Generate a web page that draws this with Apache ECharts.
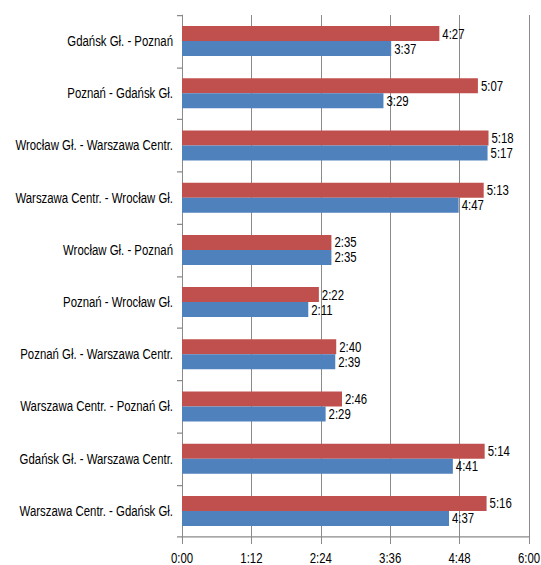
<!DOCTYPE html>
<html>
<head>
<meta charset="utf-8">
<script src="https://cdn.jsdelivr.net/npm/echarts@6/dist/echarts.min.js"></script>
<style>
  html, body { margin: 0; padding: 0; background: #fff; }
  #frame { width: 541px; height: 565px; position: relative; }
  /* chart is laid out at a reduced height and stretched vertically,
     which gives the tall, narrow lettering of the original */
  #chart { position: absolute; left: 0; top: 0; width: 541px; height: 452px;
           transform: scaleY(1.25); transform-origin: 0 0; }
</style>
</head>
<body>
<div id="frame"><div id="chart"></div></div>
<script>
// Routes, listed top to bottom
const routes = [
  'Gdańsk Gł. - Poznań',
  'Poznań - Gdańsk Gł.',
  'Wrocław Gł. - Warszawa Centr.',
  'Warszawa Centr. - Wrocław Gł.',
  'Wrocław Gł. - Poznań',
  'Poznań - Wrocław Gł.',
  'Poznań Gł. - Warszawa Centr.',
  'Warszawa Centr. - Poznań Gł.',
  'Gdańsk Gł. - Warszawa Centr.',
  'Warszawa Centr. - Gdańsk Gł.'
];

// Travel times in minutes
const timesRed = [267, 307, 318, 313, 155, 142, 160, 166, 314, 316];
const timesBlue = [217, 209, 317, 287, 155, 131, 159, 149, 281, 277];

// Axis range and step in minutes (0:00 .. 6:00 every 1:12)
const axisMin = 0;
const axisMax = 360;
const axisStep = 72;

function hm(minutes) {
  const h = Math.floor(minutes / 60);
  const m = Math.round(minutes % 60);
  return h + ':' + (m < 10 ? '0' : '') + m;
}

const fontFamily = '"Liberation Sans", Arial, sans-serif';
const fontSize = 11.4;

const chart = echarts.init(document.getElementById('chart'), null, { renderer: 'svg' });

const labelCfg = {
  show: true,
  position: 'right',
  distance: 3,
  color: '#000',
  fontFamily: fontFamily,
  fontSize: fontSize,
  formatter: p => hm(p.value)
};

chart.setOption({
  animation: false,
  grid: { left: 182, right: 12, top: 12, bottom: 22.4, containLabel: false, outerBoundsMode: 'none' },
  xAxis: {
    type: 'value',
    min: axisMin,
    max: axisMax,
    interval: axisStep,
    axisLine: { show: true, lineStyle: { color: '#8a8a8a', width: 1 } },
    axisTick: { show: true, length: 5.5, lineStyle: { color: '#8a8a8a' } },
    axisLabel: {
      formatter: v => hm(v),
      color: '#000',
      fontFamily: fontFamily,
      fontSize: fontSize,
      margin: 11
    },
    splitLine: { show: true, lineStyle: { color: '#8a8a8a', width: 1 } }
  },
  yAxis: {
    type: 'category',
    data: routes,
    inverse: true,
    axisLine: { show: true, lineStyle: { color: '#8a8a8a', width: 1 } },
    axisTick: { show: true, length: 5, lineStyle: { color: '#8a8a8a' } },
    axisLabel: {
      color: '#000',
      fontFamily: fontFamily,
      fontSize: fontSize,
      margin: 9
    },
    splitLine: { show: false }
  },
  series: [
    {
      type: 'bar',
      data: timesRed,
      barWidth: 12,
      barGap: '0%',
      itemStyle: { color: '#C0504D' },
      label: labelCfg
    },
    {
      type: 'bar',
      data: timesBlue,
      barWidth: 12,
      barGap: '0%',
      itemStyle: { color: '#4F81BD' },
      label: labelCfg
    }
  ]
});
</script>
</body>
</html>
